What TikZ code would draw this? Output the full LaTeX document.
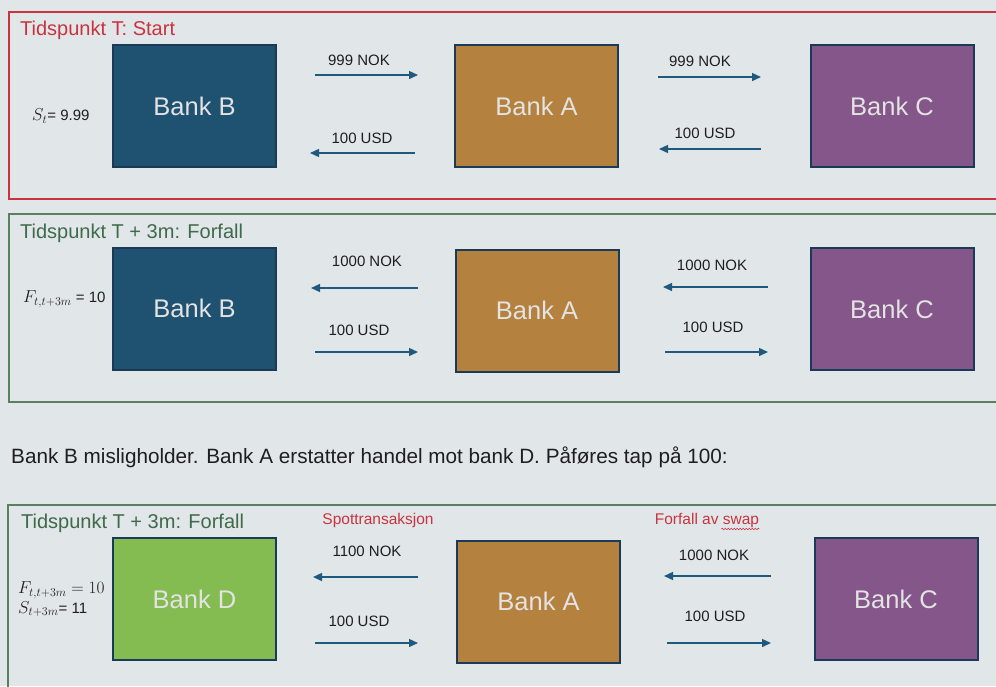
\documentclass[tikz,border=0pt]{standalone}
\usepackage{fontspec}
\setmainfont{Liberation Sans}
\usetikzlibrary{arrows.meta,decorations.pathmorphing}
\definecolor{bgcol}{HTML}{E1E6E9}
\definecolor{redcol}{HTML}{C9333F}
\definecolor{greencol}{HTML}{5B7F61}
\definecolor{greentitle}{HTML}{3F6A4B}
\definecolor{bordercol}{HTML}{1B3A57}
\definecolor{bcol}{HTML}{1F5170}
\definecolor{acol}{HTML}{B5813F}
\definecolor{ccol}{HTML}{845689}
\definecolor{dcol}{HTML}{84BC51}
\definecolor{arrcol}{HTML}{1F5A7E}
\definecolor{txtcol}{HTML}{1E1E1E}
\definecolor{banktext}{HTML}{E3E3E3}
\newcommand{\mathbig}[1]{{\fontsize{18.5}{20}\selectfont #1}}
\begin{document}
\begin{tikzpicture}[x=1pt,y=-1pt,
  bank/.style={draw=bordercol, line width=2pt, minimum width=163pt, minimum height=122pt, inner sep=0pt, font=\fontsize{25.5}{30}\selectfont, text=banktext},
  flow/.style={draw=arrcol, line width=1.4pt, -{Triangle[length=9pt,width=8pt]}},
  lbl/.style={font=\fontsize{15}{18}\selectfont, text=txtcol, inner sep=0pt},
  frame/.style={line width=2.4pt},
  ttl/.style={font=\fontsize{20}{24}\selectfont, anchor=west, inner sep=0pt},
  red lbl/.style={font=\fontsize{15.5}{18}\selectfont, text=redcol, inner sep=0pt},
  mlbl/.style={font=\fontsize{15}{18}\selectfont, text=txtcol, inner sep=0pt}
]
\useasboundingbox (0,0) rectangle (996,686);
\fill[bgcol] (0,0) rectangle (996,686);

% ---------- frames ----------
\draw[frame, draw=redcol] (9,12) rectangle (1010,199);
\draw[frame, draw=greencol] (9,214) rectangle (1010,402);
\draw[frame, draw=greencol] (8,505) rectangle (1010,700);

\node[ttl, text=redcol] (t1) at (20,30) {Tidspunkt T: Start};
\node[ttl, text=greentitle] (t2) at (20,233) {Tidspunkt T + 3m: Forfall};
\node[ttl, text=greentitle] (t3) at (21,523) {Tidspunkt T + 3m: Forfall};

% ---------- row 1 ----------
\node[bank, fill=bcol] (b1) at (194.5,106) {Bank B};
\node[bank, fill=acol] (a1) at (536.5,106) {Bank A};
\node[bank, fill=ccol] (c1) at (892,106) {Bank C};
\node[mlbl, anchor=west] (s1) at (32,116) {\mathbig{$S_t$}= 9.99};

\coordinate (r1a) at (315,75);  \coordinate (r1b) at (418,75);
\coordinate (r1c) at (415,153); \coordinate (r1d) at (310,153);
\coordinate (r1e) at (658,77);  \coordinate (r1f) at (761,77);
\coordinate (r1g) at (761,149); \coordinate (r1h) at (659,149);
\draw[flow] (r1a) -- (r1b);
\draw[flow] (r1c) -- (r1d);
\draw[flow] (r1e) -- (r1f);
\draw[flow] (r1g) -- (r1h);
\node[lbl] (l11) at (359,60) {999 NOK};
\node[lbl] (l12) at (362,138) {100 USD};
\node[lbl] (l13) at (700,61) {999 NOK};
\node[lbl] (l14) at (705,133) {100 USD};

% ---------- row 2 ----------
\node[bank, fill=bcol] (b2) at (194.5,308.5) {Bank B};
\node[bank, fill=acol] (a2) at (537,310.5) {Bank A};
\node[bank, fill=ccol] (c2) at (892,309) {Bank C};
\node[mlbl, anchor=west] (f2) at (23,299) {\mathbig{$F_{t,t+3m}$} = 10};

\coordinate (r2a) at (418,288); \coordinate (r2b) at (311,288);
\coordinate (r2c) at (315,352); \coordinate (r2d) at (418,352);
\coordinate (r2e) at (768,287); \coordinate (r2f) at (663,287);
\coordinate (r2g) at (665,352); \coordinate (r2h) at (768,352);
\draw[flow] (r2a) -- (r2b);
\draw[flow] (r2c) -- (r2d);
\draw[flow] (r2e) -- (r2f);
\draw[flow] (r2g) -- (r2h);
\node[lbl] (l21) at (367,261) {1000 NOK};
\node[lbl] (l22) at (359,330) {100 USD};
\node[lbl] (l23) at (712,265) {1000 NOK};
\node[lbl] (l24) at (713,327) {100 USD};

% ---------- middle sentence ----------
\node[font=\fontsize{20.7}{24}\selectfont, text=txtcol, anchor=west, inner sep=0pt] (mid) at (11,457)
  {Bank B misligholder. Bank A erstatter handel mot bank D. Påføres tap på 100:};

% ---------- row 3 ----------
\node[bank, fill=dcol] (d3) at (194.5,599) {Bank D};
\node[bank, fill=acol] (a3) at (538.5,601.5) {Bank A};
\node[bank, fill=ccol] (c3) at (896,599) {Bank C};
\node[mlbl, anchor=west] (f3) at (18,590) {\mathbig{$F_{t,t+3m} = 10$}};
\node[mlbl, anchor=west] (s3) at (18,609) {\mathbig{$S_{t+3m}$}= 11};

\node[red lbl] (spot) at (378,520) {Spottransaksjon};
\node[red lbl] (forf) at (707,520) {Forfall av swap};
\draw[redcol, line width=0.6pt, decorate, decoration={snake, amplitude=0.8pt, segment length=3pt}]
  ([xshift=-38pt,yshift=-9pt]forf.east) -- ([yshift=-9pt]forf.east);

\coordinate (r3a) at (418,577); \coordinate (r3b) at (313,577);
\coordinate (r3c) at (315,643); \coordinate (r3d) at (418,643);
\coordinate (r3e) at (771,576); \coordinate (r3f) at (664,576);
\coordinate (r3g) at (667,643); \coordinate (r3h) at (771,643);
\draw[flow] (r3a) -- (r3b);
\draw[flow] (r3c) -- (r3d);
\draw[flow] (r3e) -- (r3f);
\draw[flow] (r3g) -- (r3h);
\node[lbl] (l31) at (367,551) {1100 NOK};
\node[lbl] (l32) at (359,621) {100 USD};
\node[lbl] (l33) at (714,555) {1000 NOK};
\node[lbl] (l34) at (715,616) {100 USD};
\end{tikzpicture}
\end{document}
